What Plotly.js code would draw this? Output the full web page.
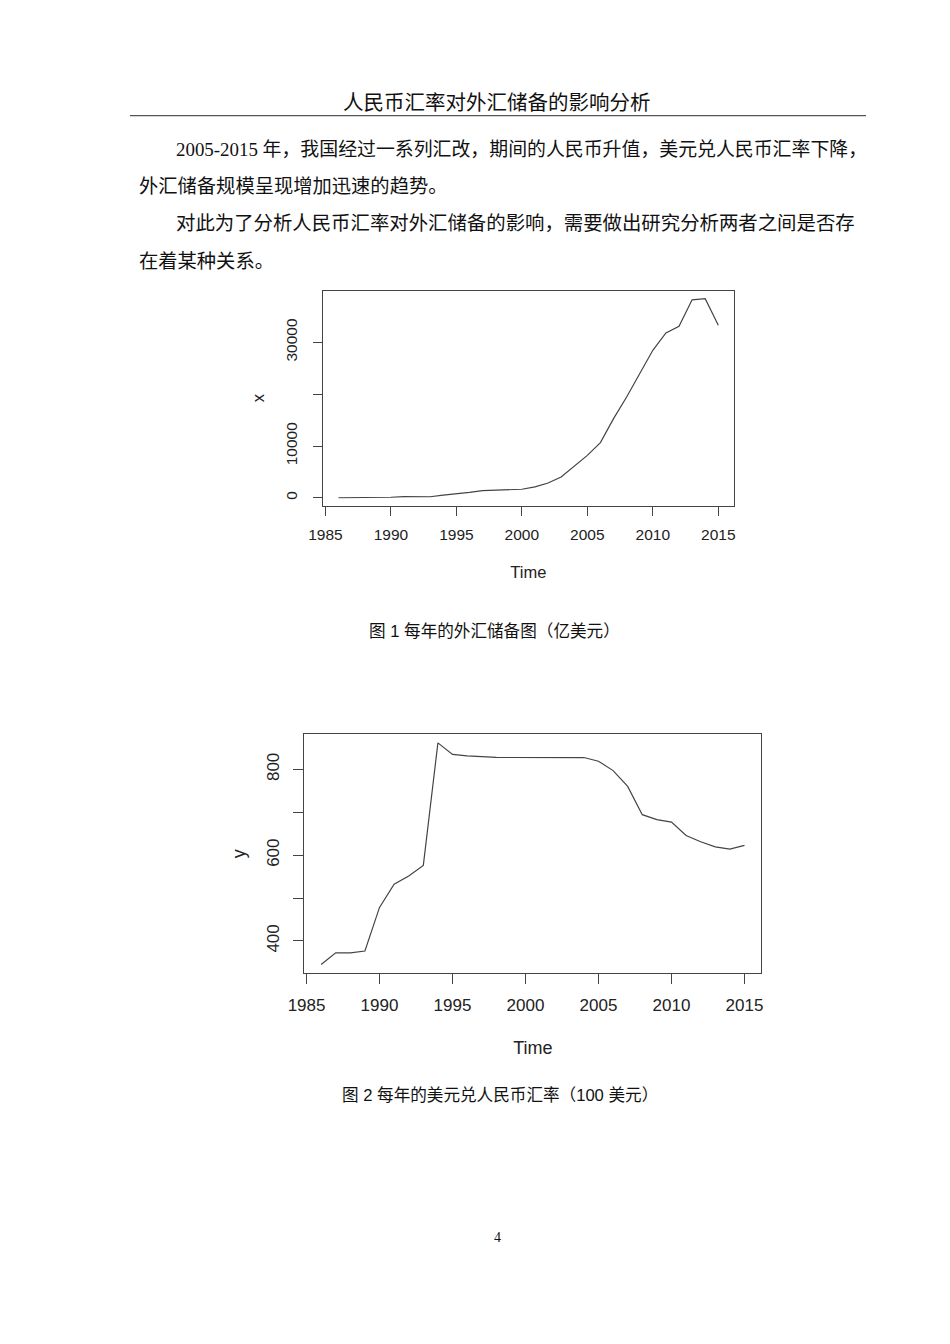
<!DOCTYPE html>
<html>
<head>
<meta charset="utf-8">
<script src="https://cdn.plot.ly/plotly-3.0.1.min.js"></script>
<style>
html,body{margin:0;padding:0;background:#fff;}
#chart{width:950px;height:1344px;}
</style>
</head>
<body>
<div id="chart"></div>
<script>
// ---- data ----
const years = [1986,1987,1988,1989,1990,1991,1992,1993,1994,1995,1996,1997,1998,1999,2000,
               2001,2002,2003,2004,2005,2006,2007,2008,2009,2010,2011,2012,2013,2014,2015];
// Foreign exchange reserves (100 million USD)
const reserves = [20.7,29.2,33.7,55.5,110.9,217.1,194.4,212.0,516.2,736.0,1050.3,1398.9,1449.6,1546.8,1655.7,
                  2121.7,2864.1,4032.5,6099.3,8188.7,10663.4,15282.5,19460.3,23991.5,28473.4,31811.5,33115.9,38213.2,38430.2,33303.6];
// USD/CNY exchange rate (per 100 USD)
const rate = [345.3,372.2,372.2,376.5,478.3,532.3,551.5,576.2,861.9,835.1,831.4,829.0,827.9,827.8,827.8,
              827.7,827.7,827.7,827.7,819.2,797.2,760.4,694.5,683.1,677.0,645.9,631.3,619.3,614.3,622.8];
const xTicks = [1985,1990,1995,2000,2005,2010,2015];
const y1Ticks = [0,10000,20000,30000];
const y1TickText = ['0','10000','','30000'];
const y2Ticks = [400,500,600,700,800];
const y2TickText = ['400','','600','','800'];

const headerText = '人民币汇率对外汇储备的影响分析';
const bodyLines = [
  '2005-2015 年，我国经过一系列汇改，期间的人民币升值，美元兑人民币汇率下降，',
  '外汇储备规模呈现增加迅速的趋势。',
  '对此为了分析人民币汇率对外汇储备的影响，需要做出研究分析两者之间是否存',
  '在着某种关系。'
];
const caption1 = '图 1 每年的外汇储备图（亿美元）';
const caption2 = '图 2 每年的美元兑人民币汇率（100 美元）';
const pageNo = '4';

// ---- page geometry helpers ----
const W = 950, H = 1344;
const px = v => v / W;
const py = v => 1 - v / H;

const serif = 'Liberation Serif, "Times New Roman", "Noto Sans CJK SC", serif';
const cjkSans = 'Liberation Sans, "Noto Sans CJK SC", sans-serif';
const rFont = 'Liberation Sans, Arial, sans-serif';
const axisCol = '#444';
const lineCol = '#444';

const traces = [
  {x: years, y: reserves, type: 'scatter', mode: 'lines', xaxis: 'x', yaxis: 'y',
   line: {color: lineCol, width: 1.2}, hoverinfo: 'x+y'},
  {x: years, y: rate, type: 'scatter', mode: 'lines', xaxis: 'x2', yaxis: 'y2',
   line: {color: lineCol, width: 1.2}, hoverinfo: 'x+y'}
];

function xAxis(domain, fsize, tlen, yref, lstand, tstand) {
  return {
    domain: domain, range: [1984.84, 2016.16], anchor: yref,
    tickmode: 'array', tickvals: xTicks, ticks: 'outside', ticklen: tlen, tickwidth: 1,
    tickcolor: axisCol, showline: true, mirror: true, linecolor: axisCol, linewidth: 1,
    showgrid: false, zeroline: false, fixedrange: true,
    tickfont: {family: rFont, size: fsize, color: '#222'},
    ticklabelstandoff: lstand,
    title: {text: 'Time', font: {family: rFont, size: fsize + 1, color: '#222'}, standoff: tstand}
  };
}
function yAxis(domain, range, vals, texts, fsize, tlen, xref, title, lstand) {
  return {
    domain: domain, range: range, anchor: xref,
    tickmode: 'array', tickvals: vals, ticktext: texts, tickangle: -90,
    ticks: 'outside', ticklen: tlen, tickwidth: 1, tickcolor: axisCol,
    showline: true, mirror: true, linecolor: axisCol, linewidth: 1,
    showgrid: false, zeroline: false, fixedrange: true,
    tickfont: {family: rFont, size: fsize, color: '#222'},
    ticklabelstandoff: lstand,
    title: {text: title, font: {family: rFont, size: fsize + 1, color: '#222'}, standoff: 14}
  };
}

function txt(text, x, y, anchor, family, size) {
  return {text: text, x: px(x), y: py(y), xref: 'paper', yref: 'paper', xanchor: anchor, yanchor: 'middle',
          showarrow: false, font: {family: family, size: size, color: '#111'}};
}

const annotations = [
  txt(headerText, 497, 103, 'center', serif, 20.5),
  txt(bodyLines[0], 174, 149, 'left', serif, 18.9),
  txt(bodyLines[1], 137, 186, 'left', serif, 19.3),
  txt(bodyLines[2], 174, 224, 'left', serif, 19.4),
  txt(bodyLines[3], 137, 261, 'left', serif, 19.3),
  txt(caption1, 495, 631, 'center', cjkSans, 16.6),
  txt(caption2, 500, 1095, 'center', cjkSans, 16.6),
  txt(pageNo, 497, 1237, 'center', serif, 14)
];

const layout = {
  width: W, height: H,
  margin: {l: 0, r: 0, t: 0, b: 0, pad: 0},
  paper_bgcolor: '#fff', plot_bgcolor: '#fff',
  showlegend: false,
  xaxis: xAxis([px(323.3), px(733.5)], 15.5, 9, 'y', 6, 24),
  yaxis: yAxis([py(505.7), py(290.7)], [-1516, 39967], y1Ticks, y1TickText, 15.5, 9, 'x', 'x', 10),
  xaxis2: xAxis([px(304.2), px(761.4)], 17, 10, 'y2', 6, 27),
  yaxis2: yAxis([py(973.3), py(734)], [324.6, 882.6], y2Ticks, y2TickText, 17, 10, 'x2', 'y', 7),
  shapes: [
    {type: 'line', xref: 'paper', yref: 'paper', x0: px(130), x1: px(866), y0: py(115.7), y1: py(115.7),
     line: {color: '#555', width: 1.3}}
  ],
  annotations: annotations
};

Plotly.newPlot('chart', traces, layout, {displayModeBar: false, staticPlot: true});
</script>
</body>
</html>
